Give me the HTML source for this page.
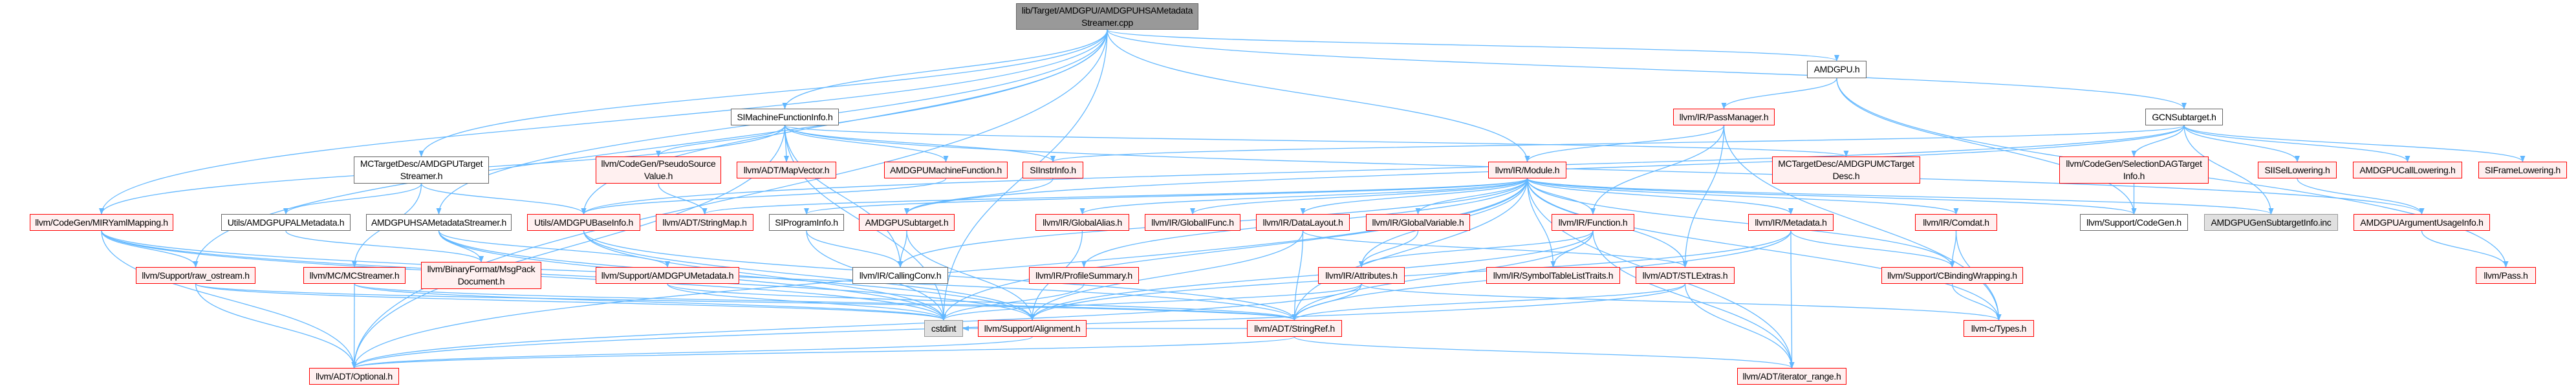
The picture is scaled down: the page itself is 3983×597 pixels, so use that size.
<!DOCTYPE html>
<html><head><meta charset="utf-8">
<style>
html,body{margin:0;padding:0;background:#fff;}
body{width:3983px;height:597px;position:relative;overflow:hidden;font-family:"Liberation Sans",Arial,sans-serif;}
.n{position:absolute;box-sizing:border-box;display:flex;align-items:center;justify-content:center;text-align:center;font-size:14px;line-height:19px;letter-spacing:-0.3px;color:#000;white-space:nowrap;}
.r{background:#fff0f0;border:1.5px solid #ff0000;}
.w{background:#fff;border:1.5px solid #666;}
.g{background:#e0e0e0;border:1.5px solid #999;}
.root{background:#999;border:1.5px solid #666;}
svg{position:absolute;left:0;top:0;}
</style></head><body>
<svg id="s" width="3983" height="597" xmlns="http://www.w3.org/2000/svg">
<defs><marker id="a" markerWidth="10" markerHeight="8" refX="9" refY="4" orient="auto" markerUnits="userSpaceOnUse"><path d="M0,0 L10,4 L0,8 z" fill="#63b8ff"/></marker></defs>
<g id="e" fill="none" stroke="#63b8ff" stroke-width="1.3"></g>
</svg>
<div id="nodes"></div>
<div class="n root" style="left:1571px;top:5px;width:282px;height:41px">lib/Target/AMDGPU/AMDGPUHSAMetadata<br>Streamer.cpp</div>
<div class="n w" style="left:2794px;top:94px;width:92px;height:27px">AMDGPU.h</div>
<div class="n w" style="left:1130px;top:168px;width:167px;height:26px">SIMachineFunctionInfo.h</div>
<div class="n r" style="left:2587px;top:168px;width:157px;height:26px">llvm/IR/PassManager.h</div>
<div class="n w" style="left:3317px;top:168px;width:120px;height:26px">GCNSubtarget.h</div>
<div class="n w" style="left:547px;top:242px;width:209px;height:42px">MCTargetDesc/AMDGPUTarget<br>Streamer.h</div>
<div class="n r" style="left:921px;top:242px;width:194px;height:42px">llvm/CodeGen/PseudoSource<br>Value.h</div>
<div class="n r" style="left:1139px;top:250px;width:154px;height:26px">llvm/ADT/MapVector.h</div>
<div class="n r" style="left:1367px;top:250px;width:191px;height:26px">AMDGPUMachineFunction.h</div>
<div class="n r" style="left:1581px;top:250px;width:94px;height:26px">SIInstrInfo.h</div>
<div class="n r" style="left:2301px;top:250px;width:121px;height:26px">llvm/IR/Module.h</div>
<div class="n r" style="left:2740px;top:242px;width:229px;height:42px">MCTargetDesc/AMDGPUMCTarget<br>Desc.h</div>
<div class="n r" style="left:3184px;top:242px;width:231px;height:42px">llvm/CodeGen/SelectionDAGTarget<br>Info.h</div>
<div class="n r" style="left:3491px;top:250px;width:122px;height:26px">SIISelLowering.h</div>
<div class="n r" style="left:3638px;top:250px;width:169px;height:26px">AMDGPUCallLowering.h</div>
<div class="n r" style="left:3832px;top:250px;width:137px;height:26px">SIFrameLowering.h</div>
<div class="n r" style="left:46px;top:331px;width:222px;height:26px">llvm/CodeGen/MIRYamlMapping.h</div>
<div class="n w" style="left:342px;top:331px;width:200px;height:26px">Utils/AMDGPUPALMetadata.h</div>
<div class="n w" style="left:566px;top:331px;width:225px;height:26px">AMDGPUHSAMetadataStreamer.h</div>
<div class="n r" style="left:815px;top:331px;width:175px;height:26px">Utils/AMDGPUBaseInfo.h</div>
<div class="n r" style="left:1014px;top:331px;width:151px;height:26px">llvm/ADT/StringMap.h</div>
<div class="n w" style="left:1189px;top:331px;width:116px;height:26px">SIProgramInfo.h</div>
<div class="n r" style="left:1328px;top:331px;width:148px;height:26px">AMDGPUSubtarget.h</div>
<div class="n r" style="left:1601px;top:331px;width:145px;height:26px">llvm/IR/GlobalAlias.h</div>
<div class="n r" style="left:1770px;top:331px;width:148px;height:26px">llvm/IR/GlobalIFunc.h</div>
<div class="n r" style="left:1942px;top:331px;width:145px;height:26px">llvm/IR/DataLayout.h</div>
<div class="n r" style="left:2112px;top:331px;width:161px;height:26px">llvm/IR/GlobalVariable.h</div>
<div class="n r" style="left:2399px;top:331px;width:128px;height:26px">llvm/IR/Function.h</div>
<div class="n r" style="left:2703px;top:331px;width:132px;height:26px">llvm/IR/Metadata.h</div>
<div class="n r" style="left:2961px;top:331px;width:127px;height:26px">llvm/IR/Comdat.h</div>
<div class="n w" style="left:3216px;top:331px;width:167px;height:26px">llvm/Support/CodeGen.h</div>
<div class="n g" style="left:3408px;top:331px;width:207px;height:26px">AMDGPUGenSubtargetInfo.inc</div>
<div class="n r" style="left:3639px;top:331px;width:211px;height:26px">AMDGPUArgumentUsageInfo.h</div>
<div class="n r" style="left:210px;top:413px;width:185px;height:26px">llvm/Support/raw_ostream.h</div>
<div class="n r" style="left:469px;top:413px;width:158px;height:26px">llvm/MC/MCStreamer.h</div>
<div class="n r" style="left:651px;top:405px;width:186px;height:42px">llvm/BinaryFormat/MsgPack<br>Document.h</div>
<div class="n r" style="left:921px;top:413px;width:222px;height:26px">llvm/Support/AMDGPUMetadata.h</div>
<div class="n w" style="left:1318px;top:413px;width:148px;height:26px">llvm/IR/CallingConv.h</div>
<div class="n r" style="left:1591px;top:413px;width:170px;height:26px">llvm/IR/ProfileSummary.h</div>
<div class="n r" style="left:2038px;top:413px;width:134px;height:26px">llvm/IR/Attributes.h</div>
<div class="n r" style="left:2298px;top:413px;width:207px;height:26px">llvm/IR/SymbolTableListTraits.h</div>
<div class="n r" style="left:2529px;top:413px;width:153px;height:26px">llvm/ADT/STLExtras.h</div>
<div class="n r" style="left:2909px;top:413px;width:219px;height:26px">llvm/Support/CBindingWrapping.h</div>
<div class="n r" style="left:3828px;top:413px;width:93px;height:26px">llvm/Pass.h</div>
<div class="n g" style="left:1429px;top:495px;width:60px;height:26px">cstdint</div>
<div class="n r" style="left:1512px;top:495px;width:168px;height:26px">llvm/Support/Alignment.h</div>
<div class="n r" style="left:1928px;top:495px;width:147px;height:26px">llvm/ADT/StringRef.h</div>
<div class="n r" style="left:3036px;top:495px;width:109px;height:26px">llvm-c/Types.h</div>
<div class="n r" style="left:478px;top:569px;width:139px;height:26px">llvm/ADT/Optional.h</div>
<div class="n r" style="left:2686px;top:569px;width:169px;height:26px">llvm/ADT/iterator_range.h</div>
<script>
var N={root:[1571,5,282,41],amdgpu:[2794,94,92,27],simfi:[1130,168,167,26],pm:[2587,168,157,26],gcn:[3317,168,120,26],
tstream:[547,242,209,42],pseudo:[921,242,194,42],mapvec:[1139,250,154,26],amfunc:[1367,250,191,26],siinstr:[1581,250,94,26],
module:[2301,250,121,26],mcdesc:[2740,242,229,42],sdag:[3184,242,231,42],sisel:[3491,250,122,26],callow:[3638,250,169,26],sifl:[3832,250,137,26],
mir:[46,331,222,26],pal:[342,331,200,26],hsas:[566,331,225,26],baseinfo:[815,331,175,26],strmap:[1014,331,151,26],siprog:[1189,331,116,26],
asub:[1328,331,148,26],galias:[1601,331,145,26],gifunc:[1770,331,148,26],dl:[1942,331,145,26],gvar:[2112,331,161,26],func:[2399,331,128,26],
meta:[2703,331,132,26],comdat:[2961,331,127,26],cgen:[3216,331,167,26],gensub:[3408,331,207,26],argusage:[3639,331,211,26],
rawos:[210,413,185,26],mcstr:[469,413,158,26],msgpack:[651,405,186,42],amdmeta:[921,413,222,26],cconv:[1318,413,148,26],prof:[1591,413,170,26],
attr:[2038,413,134,26],symtab:[2298,413,207,26],stlex:[2529,413,153,26],cbind:[2909,413,219,26],pass:[3828,413,93,26],
cstdint:[1429,495,60,26],align:[1512,495,168,26],strref:[1928,495,147,26],ctypes:[3036,495,109,26],optional:[478,569,139,26],iterr:[2686,569,169,26]};
var E="root>simfi root>tstream root>mir root>rawos root>optional root>baseinfo root>cstdint root>module root>amdgpu root>gcn root>hsas "+
"amdgpu>pm amdgpu>pass amdgpu>cgen pm>module pm>func pm>stlex pm>ctypes "+
"simfi>pseudo simfi>mapvec simfi>amfunc simfi>siinstr simfi>mcdesc simfi>argusage simfi>mir simfi>optional simfi>cconv simfi>cstdint "+
"gcn>sdag gcn>sisel gcn>callow gcn>sifl gcn>gensub gcn>siinstr gcn>asub gcn>baseinfo "+
"module>galias module>gifunc module>dl module>gvar module>func module>meta module>comdat module>attr module>symtab module>stlex module>cbind module>ctypes module>iterr module>strref module>cstdint module>prof module>cconv module>strmap module>siprog module>optional module>cgen module>gensub "+
"tstream>pal tstream>baseinfo tstream>mcstr mir>rawos mir>optional mir>strref mir>align mir>cstdint pal>msgpack hsas>msgpack hsas>amdmeta hsas>cstdint hsas>align "+
"baseinfo>align baseinfo>cstdint baseinfo>strref pseudo>strmap amfunc>baseinfo siinstr>asub siprog>cconv siprog>cstdint asub>cconv asub>align "+
"rawos>optional rawos>strref rawos>cstdint mcstr>optional mcstr>strref mcstr>cstdint amdmeta>cstdint amdmeta>strref prof>cstdint galias>align "+
"gvar>attr dl>strref dl>stlex dl>align func>attr func>symtab func>strref func>iterr func>align meta>cbind meta>iterr meta>strref meta>align "+
"comdat>cbind comdat>ctypes attr>strref attr>cstdint attr>ctypes attr>optional stlex>iterr stlex>strref stlex>optional cbind>ctypes sdag>cgen sisel>argusage argusage>pass strref>iterr strref>cstdint strref>optional align>optional";
var g=document.getElementById('e'),h='';
E.split(' ').forEach(function(p){var q=p.split('>'),s=N[q[0]],t=N[q[1]];if(!s||!t)return;
var sx=s[0]+s[2]/2,sy=s[1]+s[3],tx=t[0]+t[2]/2,ty=t[1],d;
if(t[1]>=s[1]+s[3]-2){d='M'+sx+','+sy+' C'+sx+','+(sy+ty)/2+' '+tx+','+(sy+ty)/2+' '+tx+','+ty;}
else{var ry=t[1]+t[3]/2,ex=(tx>sx)?t[0]:t[0]+t[2];sy=s[1]+s[3]/2;sx=(tx>sx)?s[0]+s[2]:s[0];d='M'+sx+','+sy+' L'+ex+','+ry;}
h+='<path d="'+d+'" marker-end="url(#a)"/>';});
g.innerHTML=h;
</script>
</body></html>
